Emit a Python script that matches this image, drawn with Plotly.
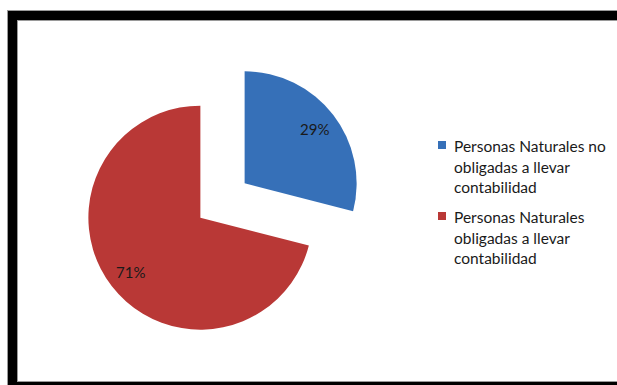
import math
import plotly.graph_objects as go

labels = ["Personas Naturales no obligadas a llevar contabilidad",
          "Personas Naturales obligadas a llevar contabilidad"]
legend_lines = [["Personas Naturales no", "obligadas a llevar", "contabilidad"],
                ["Personas Naturales", "obligadas a llevar", "contabilidad"]]
values = [29, 71]
colors = ["#3670b8", "#b93836"]
pulls = [0.25, 0.25]

W, H = 617, 385
CX, CY, BOX = 222.5, 200.5, 280.0  # pie box centre and size in px
R = BOX / (2 + 2 * max(pulls))

fig = go.Figure()
fig.add_trace(go.Pie(
    labels=labels,
    values=values,
    sort=False,
    direction="clockwise",
    rotation=0,
    pull=pulls,
    marker=dict(colors=colors, line=dict(width=0)),
    textinfo="none",
    domain=dict(x=[(CX - BOX / 2) / W, (CX + BOX / 2) / W],
                y=[1 - (CY + BOX / 2) / H, 1 - (CY - BOX / 2) / H]),
    hoverinfo="label+percent",
    showlegend=False,
))

# percentage labels placed along each slice's mid-angle
total = sum(values)
cum = 0
for v, p in zip(values, pulls):
    mid = (cum + v / 2) / total * 2 * math.pi
    cum += v
    dx, dy = math.sin(mid), -math.cos(mid)
    rr = R * p + R * 0.79
    px, py = CX + dx * rr, CY + dy * rr
    fig.add_annotation(x=px / W, y=1 - py / H, xref="paper", yref="paper",
                       xanchor="center", yanchor="middle",
                       text=f"{round(100 * v / total)}%", showarrow=False,
                       font=dict(family="Lato", size=15, color="#1a1a1a"))

# legend drawn manually
LX, LY0, ENTRY_GAP, LINE_GAP = 452, 146, 71, 20.5
for i, (lines, col) in enumerate(zip(legend_lines, colors)):
    top = LY0 + i * ENTRY_GAP
    fig.add_shape(type="rect", xref="paper", yref="paper",
                  x0=438 / W, x1=446 / W, y0=1 - (top + 3) / H, y1=1 - (top - 5) / H,
                  fillcolor=col, line=dict(width=0))
    for j, ln in enumerate(lines):
        fig.add_annotation(x=LX / W, y=1 - (top + j * LINE_GAP) / H,
                           xref="paper", yref="paper", xanchor="left", yanchor="middle",
                           text=ln, showarrow=False,
                           font=dict(family="Lato", size=15.5, color="#1a1a1a"))

# black frame with grey edges
for col, wd in (("#9a9a9a", 11), ("#000000", 9)):
    fig.add_shape(type="rect", xref="paper", yref="paper",
                  x0=12.5 / W, x1=640 / W, y0=1 - 386.5 / H, y1=1 - 15.5 / H,
                  line=dict(color=col, width=wd), fillcolor="rgba(0,0,0,0)")

fig.update_layout(
    width=W, height=H,
    margin=dict(l=0, r=0, t=0, b=0),
    paper_bgcolor="white",
    plot_bgcolor="white",
    showlegend=False,
)

fig.write_html("out.html")
